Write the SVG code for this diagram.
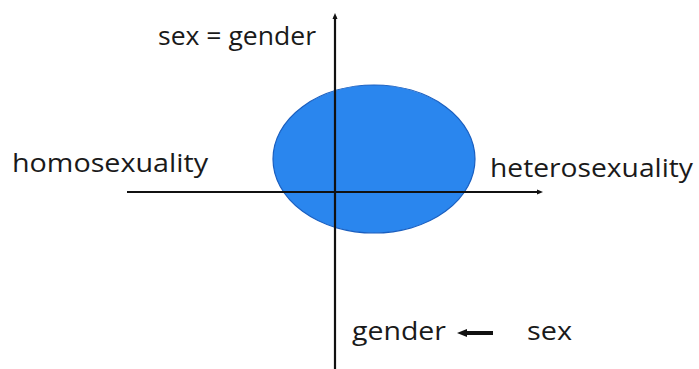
<svg xmlns="http://www.w3.org/2000/svg" width="699" height="369" viewBox="0 0 699 369">
<style>
.lbl{font-family:"Open Sans","Liberation Sans",sans-serif;font-size:25px;fill:#1a1a1a}
.ax{stroke:#111;stroke-width:2.2;fill:none}
</style>
<defs>
<marker id="ah" markerWidth="6" markerHeight="6" refX="3" refY="3" orient="auto" markerUnits="userSpaceOnUse">
<path d="M0,0.5 L6,3 L0,5.5 Z" fill="#111"/>
</marker>
<marker id="ah2" markerWidth="10" markerHeight="10" refX="5" refY="5" orient="auto" markerUnits="userSpaceOnUse">
<path d="M0,1 L10,5 L0,9 Z" fill="#111"/>
</marker>
</defs>
<rect width="699" height="369" fill="#fff"/>
<g id="ellipse">
<ellipse cx="374" cy="159" rx="101" ry="74" fill="#2a86ee" stroke="#1a5fc0" stroke-width="1.2"/>
</g>
<g id="connectors">
<line class="ax" x1="335" y1="369" x2="335" y2="16" marker-end="url(#ah)"/>
<line class="ax" x1="127" y1="192" x2="540" y2="192" marker-end="url(#ah)"/>
<line x1="493" y1="333" x2="462" y2="333" stroke="#111" stroke-width="4" marker-end="url(#ah2)"/>
</g>
<g id="label-sex-gender"><text class="lbl" x="158" y="45" textLength="158" lengthAdjust="spacingAndGlyphs">sex = gender</text></g>
<g id="label-homo"><text class="lbl" x="12" y="172" textLength="196" lengthAdjust="spacingAndGlyphs">homosexuality</text></g>
<g id="label-hetero"><text class="lbl" x="490" y="177" textLength="203" lengthAdjust="spacingAndGlyphs">heterosexuality</text></g>
<g id="label-gender"><text class="lbl" x="352" y="340" textLength="94" lengthAdjust="spacingAndGlyphs">gender</text></g>
<g id="label-sex"><text class="lbl" x="527" y="340" textLength="45" lengthAdjust="spacingAndGlyphs">sex</text></g>
</svg>
